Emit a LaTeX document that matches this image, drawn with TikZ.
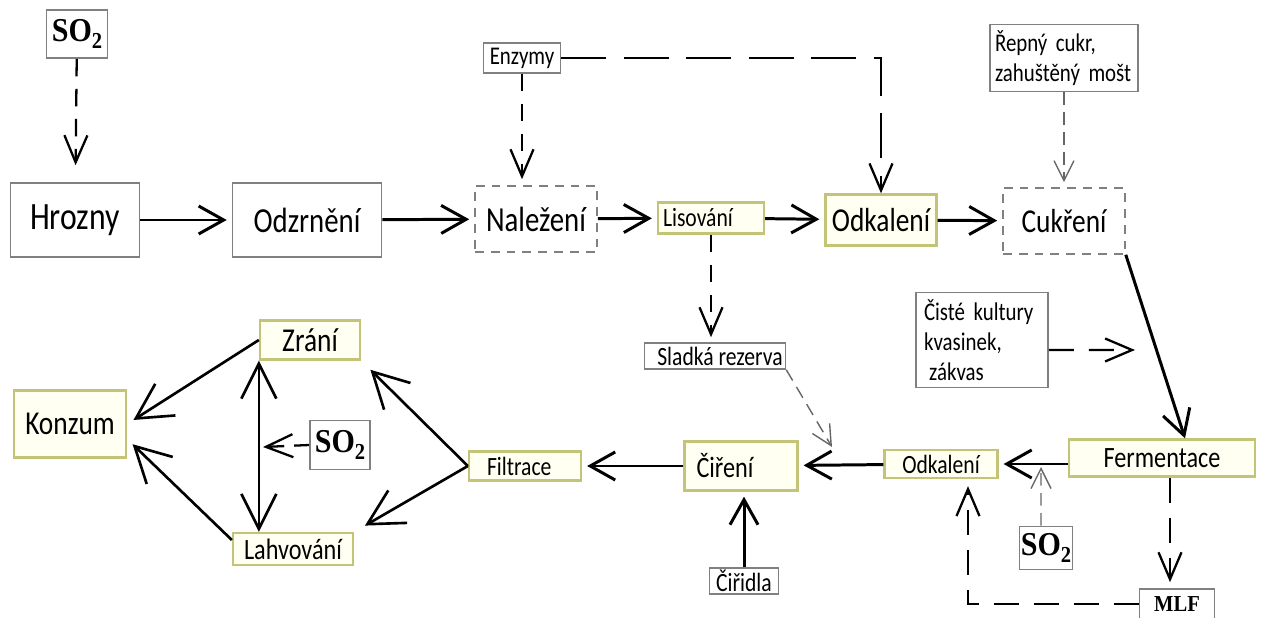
\documentclass[tikz,border=0pt]{standalone}
\usepackage{fontspec}
\setmainfont[FakeStretch=0.82]{Carlito}
\newfontfamily\timesfont[FakeStretch=0.9]{Liberation Serif}
\usetikzlibrary{arrows.meta}

\definecolor{yframe}{RGB}{196,196,120}
\definecolor{yfill}{RGB}{255,255,242}
\definecolor{gframe}{RGB}{128,128,128}

% SO2 in the serif face
\newcommand*{\sotwo}{{\timesfont\bfseries SO\raisebox{-0.45ex}{\fontsize{13}{13}\selectfont 2}}}

\begin{document}
\begin{tikzpicture}

\tikzset{%
    gbox/.style={draw=gframe,line width=0.9pt,inner sep=0pt},
    ybox/.style={draw=yframe,fill=yfill,line width=1.3pt,inner sep=0pt},
    dbox/.style={draw=gframe,dash pattern=on 5pt off 4pt,line width=0.9pt,inner sep=0pt},
    flow/.style={-{Straight Barb[length=5mm,width=5.6mm]},line width=1.7pt,shorten >=1mm},
    bigflow/.style={-{Straight Barb[length=7mm,width=7.5mm]},line width=1.5pt},
    twoway/.style={{Straight Barb[length=7mm,width=7mm]}-{Straight Barb[length=7mm,width=7mm]},line width=1.5pt},
    feed/.style={-{Straight Barb[length=5.4mm,width=4.6mm]},line width=1.3pt,dash pattern=on 3.5mm off 2.5mm},
    thinfeed/.style={-{Straight Barb[length=4mm,width=4mm]},line width=0.8pt,draw=black!60,dash pattern=on 2.5mm off 1.5mm},
    fxxl/.style={font=\fontsize{22}{24}\selectfont},
    fxl/.style={font=\fontsize{20}{22}\selectfont},
    fl/.style={font=\fontsize{19}{21}\selectfont},
    fm/.style={font=\fontsize{16.8}{19}\selectfont},
    fs/.style={font=\fontsize{15}{17}\selectfont},
    fxs/.style={font=\fontsize{14.5}{17}\selectfont},
    fso/.style={font=\fontsize{19}{20}\selectfont},
}

\useasboundingbox (0,0) rectangle (25.28,-12.36);

% top row
\node[gbox,fso,minimum width=1.22cm,minimum height=0.96cm] (so2a) at (1.54,-0.68) {\sotwo};
\node[gbox,fxxl,minimum width=2.58cm,minimum height=1.48cm] (hrozny) at (1.5,-4.4) {Hrozny};
\node[gbox,fxl,minimum width=2.98cm,minimum height=1.48cm] (odzrneni) at (6.14,-4.4) {Odzrnění};
\node[dbox,fxl,minimum width=2.44cm,minimum height=1.32cm] (nalezeni) at (10.72,-4.38) {Naležení};
\node[ybox,fs,text width=1.92cm,inner xsep=0.1cm,align=left,minimum height=0.62cm] (lisovani) at (14.22,-4.36) {Lisování};
\node[ybox,fl,minimum width=2.22cm,minimum height=1.02cm] (odkaleni1) at (17.62,-4.4) {Odkalení};
\node[dbox,fl,minimum width=2.44cm,minimum height=1.32cm] (cukreni) at (21.28,-4.42) {Cukření};
\node[gbox,fxs,minimum width=1.54cm,minimum height=0.6cm] (enzymy) at (10.44,-1.16) {Enzymy};
\node[gbox,fxs,text width=2.76cm,inner xsep=0.1cm,align=left,minimum height=1.34cm] (repny) at (21.28,-1.16) {Řepný cukr,\\zahuštěný mošt};

% right side
\node[gbox,fxs,text width=2.32cm,inner xsep=0.16cm,align=left,minimum height=1.9cm] (ciste) at (19.64,-6.8) {Čisté\ kultury\\kvasinek,\\\hspace{0.2em}zákvas};
\node[ybox,fm,minimum width=3.72cm,minimum height=0.74cm] (fermentace) at (23.24,-9.16) {Fermentace};
\node[ybox,fs,minimum width=2.26cm,minimum height=0.56cm] (odkaleni2) at (18.82,-9.28) {Odkalení};
\node[gbox,fso,minimum width=1.06cm,minimum height=0.86cm] (so2c) at (20.92,-10.96) {\sotwo};
\node[gbox,font=\timesfont\bfseries\fontsize{13}{14}\selectfont,minimum width=1.5cm,minimum height=0.6cm] (mlf) at (23.54,-12.08) {MLF};

% middle
\node[gbox,fs,minimum width=2.82cm,minimum height=0.52cm] (sladka) at (14.3,-7.12) {\hspace{0.2cm}Sladká rezerva};
\node[ybox,fm,text width=1.78cm,inner xsep=0.24cm,align=left,minimum height=0.98cm] (cireni) at (14.82,-9.32) {Čiření};
\node[gbox,fs,minimum width=1.38cm,minimum height=0.52cm] (ciridla) at (14.88,-11.62) {Čiřidla};
\node[ybox,fs,text width=1.52cm,inner xsep=0.36cm,align=left,minimum height=0.58cm] (filtrace) at (10.5,-9.32) {Filtrace};

% left side
\node[ybox,fl,minimum width=2.0cm,minimum height=0.78cm] (zrani) at (6.2,-6.8) {Zrání};
\node[ybox,fm,minimum width=2.4cm,minimum height=0.64cm] (lahvovani) at (5.86,-10.98) {Lahvování};
\node[ybox,fl,minimum width=2.24cm,minimum height=1.34cm] (konzum) at (1.4,-8.48) {Konzum};
\node[gbox,fso,minimum width=1.2cm,minimum height=0.98cm] (so2b) at (6.8,-8.9) {\sotwo};

% free ends of the side inputs
\coordinate (kvas) at (22.7,-7.0);
\coordinate (rezhit) at (16.64,-8.94);
\coordinate (so2hit) at (20.82,-9.34);
\coordinate (so2line) at (5.26,-8.94);

% main flow
\draw [flow] (hrozny) -- (odzrneni);
\draw [flow] (odzrneni) -- (nalezeni);
\draw [flow] (nalezeni) -- (lisovani);
\draw [flow] (lisovani) -- (odkaleni1);
\draw [flow] (odkaleni1) -- (cukreni);
\draw [flow,shorten >=0pt] (cukreni.south east) -- ([xshift=4.6mm]fermentace.north);
\draw [flow] (odkaleni2.east -| fermentace.west) -- (odkaleni2.east);
\draw [flow] (odkaleni2) -- (cireni);
\draw [flow] (ciridla.north) -- (ciridla.north |- cireni.south);
\draw [flow] (cireni) -- (filtrace);
\draw [bigflow,shorten >=2.6mm] (filtrace.west) -- (zrani.south east);
\draw [bigflow,shorten >=2.5mm] (filtrace.west) -- (lahvovani.north east);
\draw [twoway] (zrani.south west) -- (zrani.south west |- lahvovani.north);
\draw [bigflow,shorten >=1.5mm] (zrani.west) -- (konzum.east);
\draw [bigflow,shorten >=1.5mm] ([yshift=1.8mm]lahvovani.west) -- ([yshift=-3mm]konzum.east);

% additions
\draw [feed,shorten >=3.4mm] (so2a) -- (hrozny);
\draw [feed,shorten >=1.2mm] (enzymy.south) -- (enzymy.south |- nalezeni.north);
\draw [feed,dash pattern=on 9mm off 3.5mm] (enzymy.east) -| (odkaleni1.north);
\draw [thinfeed,shorten >=1mm] (repny) -- (cukreni);
\draw [feed,dash pattern=on 5mm off 3mm] ([yshift=-2mm]ciste.east) -- (kvas);
\draw [feed,shorten >=1mm] (lisovani.south) -- (lisovani.south |- sladka.north);
\draw [thinfeed] (sladka.south east) -- (rezhit);
\draw [thinfeed] ([xshift=-1mm]so2c.north) -- (so2hit);
\draw [feed,dash pattern=on 5mm off 3mm,shorten >=1.2mm] ([xshift=1.6mm]fermentace.south) -- ([xshift=1.6mm]fermentace.south |- mlf.north);
\draw [feed,dash pattern=on 5mm off 3mm,shorten >=1.4mm] (mlf.west) -| ([xshift=5.4mm]odkaleni2.south);
\draw [feed,dash pattern=on 3mm off 2mm] (so2b.west) -- (so2line);

\end{tikzpicture}
\end{document}
